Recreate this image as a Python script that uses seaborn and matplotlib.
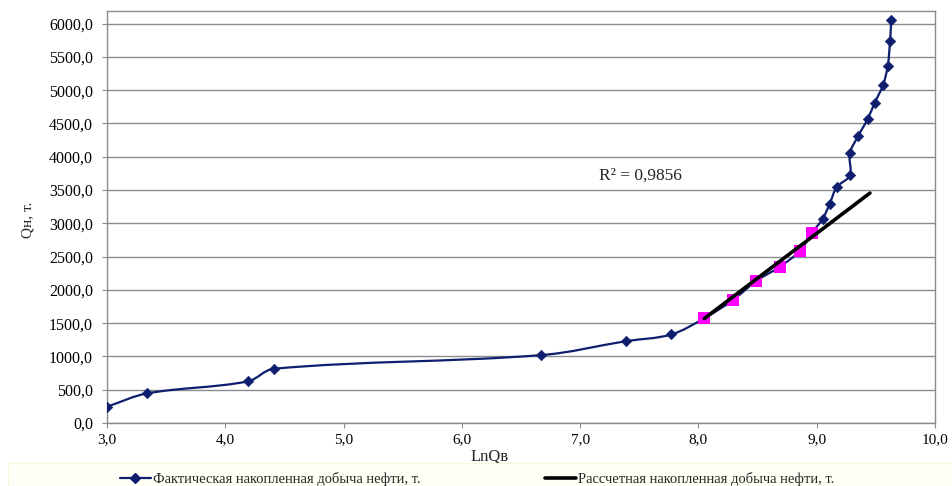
import numpy as np
import pandas as pd
import matplotlib
matplotlib.use("Agg")
import matplotlib.pyplot as plt
from matplotlib.path import Path
from matplotlib.patches import PathPatch, Rectangle
from matplotlib.lines import Line2D
import seaborn as sns

# Actual cumulative oil production vs ln of cumulative water production
ln_qw = [3.00, 3.34, 4.19, 4.41, 6.67, 7.39, 7.77,
         8.05, 8.29, 8.49, 8.69, 8.86, 8.96,
         9.05, 9.11, 9.17, 9.28, 9.28, 9.35, 9.43, 9.49, 9.56, 9.60, 9.62, 9.63]
q_oil = [245, 445, 625, 815, 1020, 1230, 1330,
         1575, 1845, 2135, 2350, 2590, 2860,
         3065, 3295, 3545, 3720, 4050, 4310, 4565, 4810, 5075, 5360, 5740, 6060]
# points used for the linear fit (highlighted)
fit_idx = [7, 8, 9, 10, 11, 12]

# Calculated cumulative production (linear trend)
calc_x = [8.05, 9.45]
calc_y = [1570, 3455]
r2_text = "R² = 0,9856"

x_ticks = [3.0, 4.0, 5.0, 6.0, 7.0, 8.0, 9.0, 10.0]
y_ticks = [0, 500, 1000, 1500, 2000, 2500, 3000, 3500, 4000, 4500, 5000, 5500, 6000]

label_actual = "Фактическая накопленная добыча нефти, т."
label_calc = "Рассчетная накопленная добыча нефти, т."

navy = "#0F1E6E"
grid_c = "#8C8C8C"

sns.set_theme(style="white")
plt.rcParams["font.family"] = ["Liberation Serif", "DejaVu Serif"]
plt.rcParams["font.size"] = 10.5

W, H = 953, 486
fig = plt.figure(figsize=(W / 100, H / 100), dpi=100)
ax = fig.add_axes([107 / W, 1 - 423 / H, (935 - 107) / W, (423 - 11) / H])
ax.set_xlim(3.0, 10.0)
ax.set_ylim(0, 6190)

df = pd.DataFrame({"x": ln_qw, "y": q_oil})
df["fit"] = [i in fit_idx for i in range(len(df))]


def smooth_path(xs, ys, tension=0.35):
    """Bezier path through the points (smoothed line), spacing-aware."""
    pts = np.column_stack([xs, ys]).astype(float)
    scr = ax.transData.transform(pts)
    n = len(pts)
    seg = np.hypot(*np.diff(scr, axis=0).T)
    out_c, in_c = [], []
    for i in range(n):
        prev_p = pts[i - 1] if i > 0 else pts[i]
        next_p = pts[i + 1] if i < n - 1 else pts[i]
        d0 = seg[i - 1] if i > 0 else 0.0
        d1 = seg[i] if i < n - 1 else 0.0
        tot = d0 + d1 if d0 + d1 > 0 else 1.0
        tan = next_p - prev_p
        in_c.append(pts[i] - tan * tension * d0 / tot)
        out_c.append(pts[i] + tan * tension * d1 / tot)
    verts = [pts[0]]
    codes = [Path.MOVETO]
    for i in range(n - 1):
        verts += [out_c[i], in_c[i + 1], pts[i + 1]]
        codes += [Path.CURVE4] * 3
    return Path(verts, codes)


ax.add_patch(PathPatch(smooth_path(df["x"], df["y"]), facecolor="none",
                       edgecolor=navy, lw=1.6, zorder=3, capstyle="round"))

sns.scatterplot(data=df[~df["fit"]], x="x", y="y", marker="D", s=28,
                color=navy, edgecolor=navy, linewidth=0.5, ax=ax, zorder=5,
                legend=False)
sns.scatterplot(data=df[df["fit"]], x="x", y="y", marker="s", s=70,
                color="#FF00FF", edgecolor="#FF00FF", linewidth=0, ax=ax,
                zorder=4, legend=False)

calc_df = pd.DataFrame({"x": calc_x, "y": calc_y})
sns.lineplot(data=calc_df, x="x", y="y", color="black", lw=2.6, ax=ax,
             zorder=6, legend=False)

ax.text(7.51, 3710, r2_text, ha="center", va="center", fontsize=12.5)

ax.set_xlim(3.0, 10.0)
ax.set_ylim(0, 6190)
ax.set_xticks(x_ticks)
ax.set_xticklabels([f"{v:.1f}".replace(".", ",") for v in x_ticks])
ax.set_yticks(y_ticks)
ax.set_yticklabels([f"{v:.1f}".replace(".", ",") for v in y_ticks])
ax.yaxis.grid(True, color=grid_c, lw=1.0)
ax.xaxis.grid(False)
for sp in ax.spines.values():
    sp.set_color(grid_c)
    sp.set_linewidth(1.0)
ax.tick_params(axis="both", direction="out", length=3.5, width=0.8,
               color=grid_c, labelcolor="black")
ax.tick_params(axis="y", pad=6.5, labelsize=11.5)
ax.tick_params(axis="x", pad=4, labelsize=11)
ax.tick_params(left=True, bottom=True)

ax.set_xlabel("LnQв", fontsize=12)
ax.xaxis.set_label_coords((490 - 107) / 828, (423 - 448) / 412)
ax.set_ylabel("Qн, т.", fontsize=11)
ax.yaxis.set_label_coords((34 - 107) / 828, (423 - 220) / 412)

# Legend band at the bottom
fig.patches.append(Rectangle((8 / W, 0), 1 - 8 / W, (486 - 463) / H,
                             transform=fig.transFigure, facecolor="#FFFFF6",
                             edgecolor="#F7F7DC", lw=0.8, zorder=0))

h_actual = Line2D([], [], color=navy, lw=1.6, marker="D", markersize=5)
h_calc = Line2D([], [], color="black", lw=2.6)
for handle, label, x0 in [(h_actual, label_actual, 120), (h_calc, label_calc, 545)]:
    fig.legend([handle], [label], loc="center left",
               bbox_to_anchor=(x0 / W, 1 - 479 / H), frameon=False,
               borderpad=0, borderaxespad=0, handlelength=2.1,
               handletextpad=0.15, fontsize=10.5)

fig.savefig("out.png", dpi=100)
